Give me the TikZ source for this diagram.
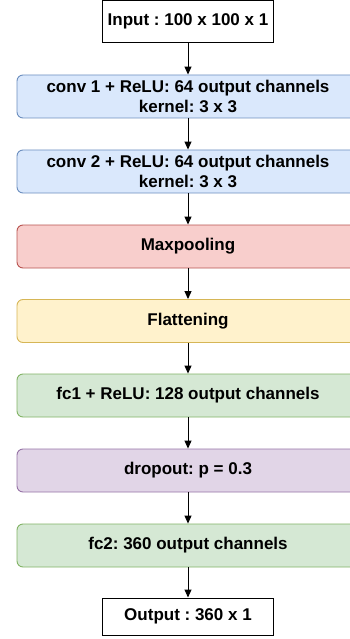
\documentclass[tikz,border=0pt]{standalone}
\usepackage{fontspec}
\setmainfont{Liberation Sans}
\usetikzlibrary{arrows.meta}
\definecolor{bluefill}{HTML}{DAE8FC}\definecolor{bluedraw}{HTML}{6C8EBF}
\definecolor{redfill}{HTML}{F8CECC}\definecolor{reddraw}{HTML}{B85450}
\definecolor{yelfill}{HTML}{FFF2CC}\definecolor{yeldraw}{HTML}{D6B656}
\definecolor{grnfill}{HTML}{D5E8D4}\definecolor{grndraw}{HTML}{82B366}
\definecolor{purfill}{HTML}{E1D5E7}\definecolor{purdraw}{HTML}{9673A6}
\frenchspacing
\begin{document}
\begin{tikzpicture}[x=1pt,y=-1pt,
  every node/.style={font=\fontsize{17}{20}\selectfont\bfseries, align=center, inner sep=0pt},
  layer/.style={rounded corners=6pt, line width=0.9pt, minimum width=342pt, minimum height=43pt},
  plainbox/.style={draw=black, line width=1pt, fill=white, minimum width=171.5pt},
  arr/.style={-{Triangle[length=8pt,width=7pt]}, line width=1pt, black}]
\useasboundingbox (0,0) rectangle (350,639);
\node[plainbox, minimum height=42.5pt] (in) at (188,21.75) {Input : 100 x 100 x 1};
\node[layer, draw=bluedraw, fill=bluefill] (c1) at (188,96.5) {conv 1 + ReLU: 64 output channels\\kernel: 3 x 3};
\node[layer, draw=bluedraw, fill=bluefill] (c2) at (188,171.5) {conv 2 + ReLU: 64 output channels\\kernel: 3 x 3};
\node[layer, draw=reddraw, fill=redfill] (mp) at (188,246.5) {Maxpooling};
\node[layer, draw=yeldraw, fill=yelfill] (fl) at (188,321) {Flattening};
\node[layer, draw=grndraw, fill=grnfill] (f1) at (188,395.5) {fc1 + ReLU: 128 output channels};
\node[layer, draw=purdraw, fill=purfill] (dp) at (188,470.5) {dropout: p = 0.3};
\node[layer, draw=grndraw, fill=grnfill] (f2) at (188,545.5) {fc2: 360 output channels};
\node[plainbox, minimum height=37pt] (out) at (188,616.5) {Output : 360 x 1};
\foreach \a/\b in {in/c1,c1/c2,c2/mp,mp/fl,fl/f1,f1/dp,dp/f2,f2/out}
  \draw[arr] (\a.south) -- (\b.north);
\end{tikzpicture}
\end{document}
